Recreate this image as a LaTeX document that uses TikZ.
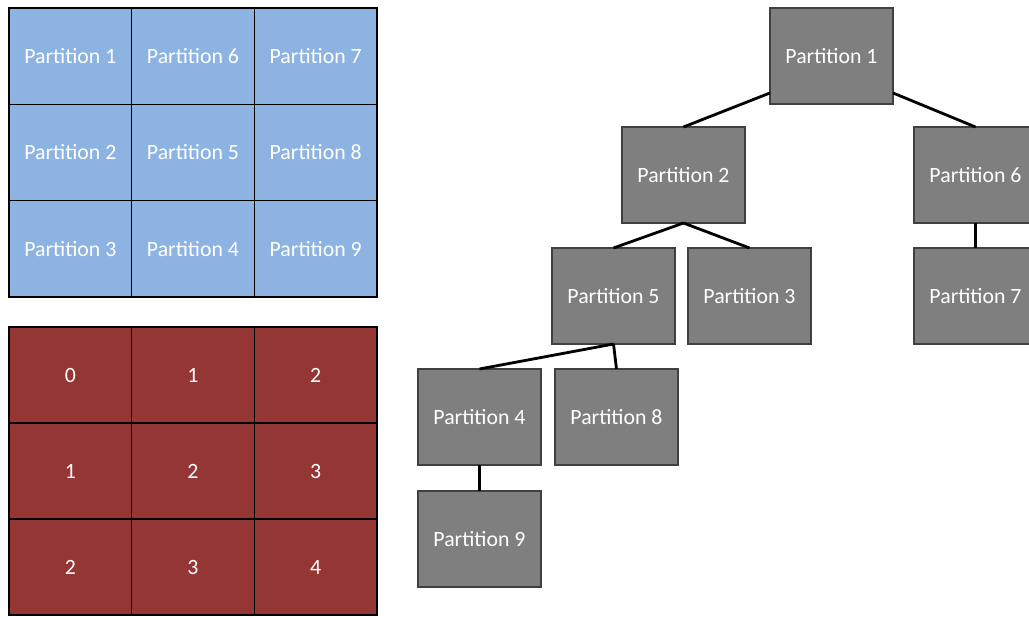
\documentclass[tikz,border=0pt]{standalone}
\usepackage{fontspec}
\setmainfont{Carlito}
\definecolor{partblue}{HTML}{8DB3E2}
\definecolor{partred}{HTML}{943634}
\definecolor{partgray}{HTML}{7F7F7F}
\tikzset{
  cell/.style={draw=black, line width=1pt, minimum width=3.067cm, minimum height=2.408cm,
    inner sep=0pt, outer sep=0pt, text=white, font=\fontsize{15.5}{18}\selectfont},
  bluecell/.style={cell, fill=partblue},
  redcell/.style={cell, fill=partred, minimum height=2.4cm},
  part/.style={draw=black!75, line width=0.8pt, fill=partgray, minimum width=3.075cm,
    minimum height=2.4cm, inner sep=0pt, outer sep=0pt, text=white,
    font=\fontsize{15.5}{18}\selectfont},
  link/.style={draw=black, line width=2pt}
}
\begin{document}
\begin{tikzpicture}[x=0.025cm, y=-0.025cm]
 \useasboundingbox (0,0) rectangle (1029,617);
 \clip (0,0) rectangle (1029,617);

 % partitions of the domain
 \foreach \c/\r/\name in {0/0/1, 1/0/6, 2/0/7, 0/1/2, 1/1/5, 2/1/8, 0/2/3, 1/2/4, 2/2/9} {
   \node[bluecell] (b\c\r) at ({70.33+122.67*\c}, {56.17+96.33*\r}) {Partition \name};
 }

 % levels
 \foreach \c/\r/\name in {0/0/0, 1/0/1, 2/0/2, 0/1/1, 1/1/2, 2/1/3, 0/2/2, 1/2/3, 2/2/4} {
   \node[redcell] (r\c\r) at ({70.33+122.67*\c}, {375+96*\r}) {\name};
 }

 % tree
 \node[part] (p1) at (831.5, 56) {Partition 1};
 \node[part] (p2) at (683.5, 175) {Partition 2};
 \node[part] (p6) at (975.5, 175) {Partition 6};
 \node[part] (p5) at (613.5, 296) {Partition 5};
 \node[part] (p3) at (749.5, 296) {Partition 3};
 \node[part] (p7) at (975.5, 296) {Partition 7};
 \node[part] (p4) at (479.5, 417) {Partition 4};
 \node[part] (p8) at (616.5, 417) {Partition 8};
 \node[part] (p9) at (479.5, 539) {Partition 9};

 % lines
 \foreach \source/\dest in {p1.211/p2.north, p1.329/p6.north, p2.south/p5.north, p2.south/p3.north,
     p6.south/p7.north, p5.south/p4.north, p5.south/p8.north, p4.south/p9.north}
   \path[link] (\source) -- (\dest);

\end{tikzpicture}
\end{document}
